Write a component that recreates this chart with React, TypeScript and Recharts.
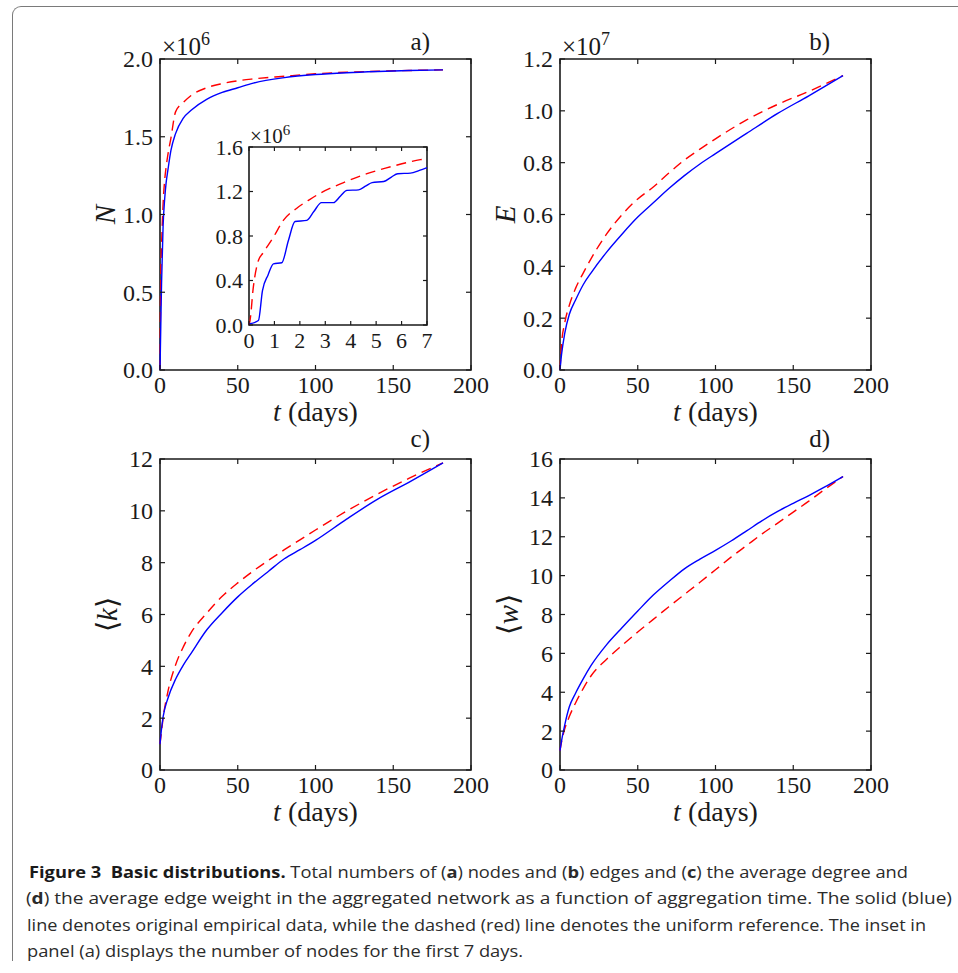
import React from 'react';
import { LineChart, Line, XAxis, YAxis, ReferenceArea } from 'recharts';

// ---------- data ----------
const dayTicks = [0, 50, 100, 150, 200];

// (a) number of nodes, in units of 1e6
const tNodes = [0, 0.5, 1, 2, 3, 4, 5, 7, 10, 15, 20, 30, 40, 50, 60, 80, 100, 120, 140, 160, 182];
const nodesEmpirical = [0, 0.28, 0.56, 0.93, 1.1, 1.21, 1.28, 1.41, 1.52, 1.62, 1.67, 1.74, 1.785, 1.815, 1.845, 1.88, 1.9, 1.912, 1.92, 1.926, 1.93];
const nodesUniform = [0, 0.62, 0.8, 1.07, 1.22, 1.31, 1.38, 1.49, 1.66, 1.72, 1.765, 1.815, 1.842, 1.86, 1.872, 1.889, 1.905, 1.915, 1.921, 1.926, 1.93];
const nodeTicks = [0, 0.5, 1, 1.5, 2];

// inset of (a): first 7 days
const tInsetEmpirical = [0, 0.37, 0.53, 0.75, 0.96, 1.29, 1.55, 1.81, 2.27, 2.55, 2.85, 3.32, 3.6, 3.85, 4.31, 4.6, 4.84, 5.3, 5.6, 5.85, 6.35, 6.7, 7.0];
const insetEmpirical = [0.01, 0.04, 0.31, 0.45, 0.55, 0.56, 0.76, 0.93, 0.94, 1.02, 1.1, 1.1, 1.16, 1.21, 1.215, 1.25, 1.28, 1.29, 1.33, 1.36, 1.365, 1.39, 1.415];
const tInsetUniform = [0, 0.04, 0.17, 0.37, 0.56, 0.96, 1.35, 1.88, 2.4, 2.8, 3.72, 4.64, 5.69, 6.74, 7.0];
const insetUniform = [0, 0.04, 0.34, 0.58, 0.65, 0.79, 0.94, 1.05, 1.13, 1.185, 1.28, 1.36, 1.43, 1.486, 1.495];
const insetXTicks = [0, 1, 2, 3, 4, 5, 6, 7];
const insetYTicks = [0, 0.4, 0.8, 1.2, 1.6];

// (b) number of edges, in units of 1e7
const tEdges = [0, 1, 3, 6, 10, 15, 20, 30, 40, 50, 60, 70, 80, 90, 100, 120, 140, 160, 182];
const edgesEmpirical = [0, 0.06, 0.14, 0.215, 0.27, 0.33, 0.375, 0.455, 0.525, 0.59, 0.645, 0.7, 0.75, 0.795, 0.835, 0.913, 0.99, 1.058, 1.136];
const edgesUniform = [0, 0.1, 0.18, 0.25, 0.315, 0.375, 0.43, 0.525, 0.6, 0.66, 0.706, 0.76, 0.81, 0.852, 0.892, 0.965, 1.025, 1.075, 1.136];
const edgeTicks = [0, 0.2, 0.4, 0.6, 0.8, 1.0, 1.2];

// (c) average degree
const tDegree = [0, 1, 2, 5, 10, 15, 20, 30, 40, 50, 60, 70, 80, 90, 100, 120, 140, 160, 182];
const degreeEmpirical = [1.0, 1.6, 2.05, 2.75, 3.5, 4.05, 4.5, 5.4, 6.07, 6.68, 7.2, 7.68, 8.15, 8.5, 8.86, 9.68, 10.45, 11.1, 11.85];
const degreeUniform = [1.0, 1.5, 2.0, 3.0, 4.05, 4.75, 5.3, 6.05, 6.7, 7.22, 7.68, 8.1, 8.5, 8.88, 9.26, 9.99, 10.65, 11.25, 11.85];
const degreeTicks = [0, 2, 4, 6, 8, 10, 12];

// (d) average edge weight
const tWeight = [0, 1, 3, 6, 10, 15, 20, 30, 40, 50, 60, 70, 80, 90, 100, 110, 120, 130, 140, 150, 160, 170, 182];
const weightEmpirical = [1.0, 1.5, 2.3, 3.25, 3.95, 4.7, 5.38, 6.45, 7.33, 8.18, 9.0, 9.7, 10.35, 10.85, 11.3, 11.78, 12.3, 12.83, 13.3, 13.72, 14.12, 14.55, 15.1];
const weightUniform = [1.0, 1.45, 2.1, 2.75, 3.45, 4.2, 4.85, 5.7, 6.42, 7.1, 7.75, 8.4, 9.03, 9.66, 10.3, 10.95, 11.55, 12.15, 12.7, 13.27, 13.83, 14.42, 15.1];
const weightTicks = [0, 2, 4, 6, 8, 10, 12, 14, 16];

// ---------- helpers ----------
const zip = (t: number[], v: number[]) => t.map((x, i) => ({ t: x, v: v[i] }));

const SERIF = '"Liberation Serif", "Times New Roman", serif';
const SANS = '"Open Sans", "Noto Sans", sans-serif';
const INK = '#1a1a1a';
const BLUE = '#0000ff';
const RED = '#ff0000';

type Series = { data: { t: number; v: number }[]; stroke: string; dash?: string };

type PanelProps = {
  plotLeft: number;
  plotTop: number;
  plotW: number;
  plotH: number;
  padL: number;
  padT: number;
  padR: number;
  padB: number;
  xDomain: [number, number];
  xTicks: number[];
  yDomain: [number, number];
  yTicks: number[];
  yFmt: (v: number) => string;
  fontSize: number;
  tickLen: number;
  xGap: number;
  yGap: number;
  series: Series[];
  children?: React.ReactNode;
};

function Panel(p: PanelProps) {
  const w = p.padL + p.plotW + p.padR;
  const h = p.padT + p.plotH + p.padB;
  const top = p.padT;
  const bottom = p.padT + p.plotH;
  const left = p.padL;
  const right = p.padL + p.plotW;

  const XTick = (props: any) => {
    const cx = props.x;
    return (
      <g>
        <line x1={cx} x2={cx} y1={bottom} y2={bottom - p.tickLen} stroke={INK} strokeWidth={1.2} />
        <line x1={cx} x2={cx} y1={top} y2={top + p.tickLen} stroke={INK} strokeWidth={1.2} />
        <text
          x={cx}
          y={bottom + p.xGap}
          dy="0.71em"
          textAnchor="middle"
          fontFamily={SERIF}
          fontSize={p.fontSize}
          fill={INK}
        >
          {String(props.payload.value)}
        </text>
      </g>
    );
  };

  const YTick = (props: any) => {
    const cy = props.y;
    return (
      <g>
        <line x1={left} x2={left + p.tickLen} y1={cy} y2={cy} stroke={INK} strokeWidth={1.2} />
        <line x1={right} x2={right - p.tickLen} y1={cy} y2={cy} stroke={INK} strokeWidth={1.2} />
        <text
          x={left - p.yGap}
          y={cy}
          dy="0.35em"
          textAnchor="end"
          fontFamily={SERIF}
          fontSize={p.fontSize}
          fill={INK}
        >
          {p.yFmt(props.payload.value)}
        </text>
      </g>
    );
  };

  return (
    <div style={{ position: 'absolute', left: p.plotLeft - p.padL, top: p.plotTop - p.padT, width: w, height: h }}>
      <LineChart width={w} height={h} margin={{ top: p.padT, right: p.padR, bottom: 0, left: 0 }}>
        <XAxis
          xAxisId="b"
          dataKey="t"
          type="number"
          orientation="bottom"
          domain={p.xDomain}
          ticks={p.xTicks}
          interval={0}
          height={p.padB}
          axisLine={false}
          tickLine={false}
          tick={XTick}
        />
        <YAxis
          yAxisId="l"
          type="number"
          orientation="left"
          domain={p.yDomain}
          ticks={p.yTicks}
          interval={0}
          width={p.padL}
          axisLine={false}
          tickLine={false}
          tick={YTick}
        />
        {p.series.map((s, i) => (
          <Line
            key={i}
            xAxisId="b"
            yAxisId="l"
            data={s.data}
            dataKey="v"
            type="monotone"
            stroke={s.stroke}
            strokeWidth={1.4}
            strokeDasharray={s.dash}
            dot={false}
            activeDot={false}
            isAnimationActive={false}
          />
        ))}
        <ReferenceArea
          xAxisId="b"
          yAxisId="l"
          x1={p.xDomain[0]}
          x2={p.xDomain[1]}
          y1={p.yDomain[0]}
          y2={p.yDomain[1]}
          fill="none"
          fillOpacity={0}
          stroke={INK}
          strokeWidth={1.6}
          strokeOpacity={1}
          ifOverflow="visible"
        />
      </LineChart>
      <svg
        width={w}
        height={h}
        style={{ position: 'absolute', left: 0, top: 0, pointerEvents: 'none', overflow: 'visible' }}
      >
        {p.children}
      </svg>
    </div>
  );
}

const MAIN = {
  plotW: 311,
  plotH: 311,
  padL: 100,
  padT: 50,
  padR: 20,
  padB: 70,
  xDomain: [0, 200] as [number, number],
  xTicks: dayTicks,
  fontSize: 24,
  tickLen: 5,
  xGap: 6,
  yGap: 7,
};

const fix1 = (v: number) => v.toFixed(1);
const int = (v: number) => String(v);

function XLabel() {
  return (
    <text x={255.5} y={412} textAnchor="middle" fontFamily={SERIF} fontSize={28} fill={INK}>
      <tspan fontStyle="italic">t</tspan>
      <tspan> (days)</tspan>
    </text>
  );
}

function YLabel({ x, children }: { x: number; children: React.ReactNode }) {
  return (
    <text
      transform={`translate(${x},205.5) rotate(-90)`}
      textAnchor="middle"
      dominantBaseline="central"
      fontFamily={SERIF}
      fontSize={29}
      fill={INK}
    >
      {children}
    </text>
  );
}

function Multiplier({ x, y, exp, size, supSize, rise }: { x: number; y: number; exp: string; size: number; supSize: number; rise: number }) {
  return (
    <text x={x} y={y} fontFamily={SERIF} fontSize={size} fill={INK}>
      ×10
      <tspan dy={-rise} fontSize={supSize}>
        {exp}
      </tspan>
    </text>
  );
}

function PanelTag({ y, children }: { y: number; children: string }) {
  return (
    <text x={370} y={y} textAnchor="end" fontFamily={SERIF} fontSize={25} fill={INK}>
      {children}
    </text>
  );
}

export default function App() {
  return (
    <div style={{ position: 'absolute', left: 0, top: 0, width: 958, height: 973, background: '#fff', overflow: 'hidden' }}>
      {/* frame */}
      <div
        style={{
          position: 'absolute',
          left: 12,
          top: 6,
          width: 980,
          height: 955,
          borderLeft: '1.5px solid #7a7a7a',
          borderTop: '1.5px solid #7a7a7a',
          borderTopLeftRadius: 9,
          boxSizing: 'border-box',
        }}
      />

      {/* (a) nodes */}
      <Panel
        {...MAIN}
        plotLeft={160}
        plotTop={59}
        yDomain={[0, 2]}
        yTicks={nodeTicks}
        yFmt={fix1}
        series={[
          { data: zip(tNodes, nodesUniform), stroke: RED, dash: '10 6' },
          { data: zip(tNodes, nodesEmpirical), stroke: BLUE },
        ]}
      >
        <Multiplier x={102} y={46} exp="6" size={25} supSize={18} rise={10} />
        <PanelTag y={41}>a)</PanelTag>
        <YLabel x={45}>
          <tspan fontStyle="italic">N</tspan>
        </YLabel>
        <XLabel />
      </Panel>

      {/* inset of (a) */}
      <Panel
        plotLeft={249}
        plotTop={147}
        plotW={178}
        plotH={178}
        padL={60}
        padT={30}
        padR={10}
        padB={40}
        xDomain={[0, 7]}
        xTicks={insetXTicks}
        yDomain={[0, 1.6]}
        yTicks={insetYTicks}
        yFmt={fix1}
        fontSize={22}
        tickLen={4}
        xGap={7}
        yGap={6}
        series={[
          { data: zip(tInsetUniform, insetUniform), stroke: RED, dash: '10 6' },
          { data: zip(tInsetEmpirical, insetEmpirical), stroke: BLUE },
        ]}
      >
        <Multiplier x={61} y={26} exp="6" size={21} supSize={15} rise={8} />
      </Panel>

      {/* (b) edges */}
      <Panel
        {...MAIN}
        plotLeft={560}
        plotTop={59}
        yDomain={[0, 1.2]}
        yTicks={edgeTicks}
        yFmt={fix1}
        series={[
          { data: zip(tEdges, edgesUniform), stroke: RED, dash: '10 6' },
          { data: zip(tEdges, edgesEmpirical), stroke: BLUE },
        ]}
      >
        <Multiplier x={102} y={46} exp="7" size={25} supSize={18} rise={10} />
        <PanelTag y={41}>b)</PanelTag>
        <YLabel x={45}>
          <tspan fontStyle="italic">E</tspan>
        </YLabel>
        <XLabel />
      </Panel>

      {/* (c) average degree */}
      <Panel
        {...MAIN}
        plotLeft={160}
        plotTop={459}
        yDomain={[0, 12]}
        yTicks={degreeTicks}
        yFmt={int}
        series={[
          { data: zip(tDegree, degreeUniform), stroke: RED, dash: '10 6' },
          { data: zip(tDegree, degreeEmpirical), stroke: BLUE },
        ]}
      >
        <PanelTag y={38}>c)</PanelTag>
        <YLabel x={47}>
          <tspan>⟨</tspan>
          <tspan fontStyle="italic">k</tspan>
          <tspan>⟩</tspan>
        </YLabel>
        <XLabel />
      </Panel>

      {/* (d) average weight */}
      <Panel
        {...MAIN}
        plotLeft={560}
        plotTop={459}
        yDomain={[0, 16]}
        yTicks={weightTicks}
        yFmt={int}
        series={[
          { data: zip(tWeight, weightUniform), stroke: RED, dash: '10 6' },
          { data: zip(tWeight, weightEmpirical), stroke: BLUE },
        ]}
      >
        <PanelTag y={38}>d)</PanelTag>
        <YLabel x={48}>
          <tspan>⟨</tspan>
          <tspan fontStyle="italic">w</tspan>
          <tspan>⟩</tspan>
        </YLabel>
        <XLabel />
      </Panel>

      {/* caption */}
      <svg width={958} height={123} style={{ position: 'absolute', left: 0, top: 850 }}>
        <g fontFamily={SANS} fontSize={16.5} fill="#2b2b2b">
          <text x={29} y={28} textLength={879} lengthAdjust="spacingAndGlyphs">
            <tspan fontWeight="bold" fill="#1a1a1a">{'Figure 3\u00a0\u00a0Basic distributions.'}</tspan>
            <tspan> Total numbers of (</tspan>
            <tspan fontWeight="bold">a</tspan>
            <tspan>) nodes and (</tspan>
            <tspan fontWeight="bold">b</tspan>
            <tspan>) edges and (</tspan>
            <tspan fontWeight="bold">c</tspan>
            <tspan>) the average degree and</tspan>
          </text>
          <text x={26} y={54} textLength={926} lengthAdjust="spacingAndGlyphs">
            <tspan>(</tspan>
            <tspan fontWeight="bold">d</tspan>
            <tspan>) the average edge weight in the aggregated network as a function of aggregation time. The solid (blue)</tspan>
          </text>
          <text x={27} y={81} textLength={899} lengthAdjust="spacingAndGlyphs">
            line denotes original empirical data, while the dashed (red) line denotes the uniform reference. The inset in
          </text>
          <text x={27} y={107} textLength={496} lengthAdjust="spacingAndGlyphs">
            panel (a) displays the number of nodes for the first 7 days.
          </text>
        </g>
      </svg>
    </div>
  );
}
